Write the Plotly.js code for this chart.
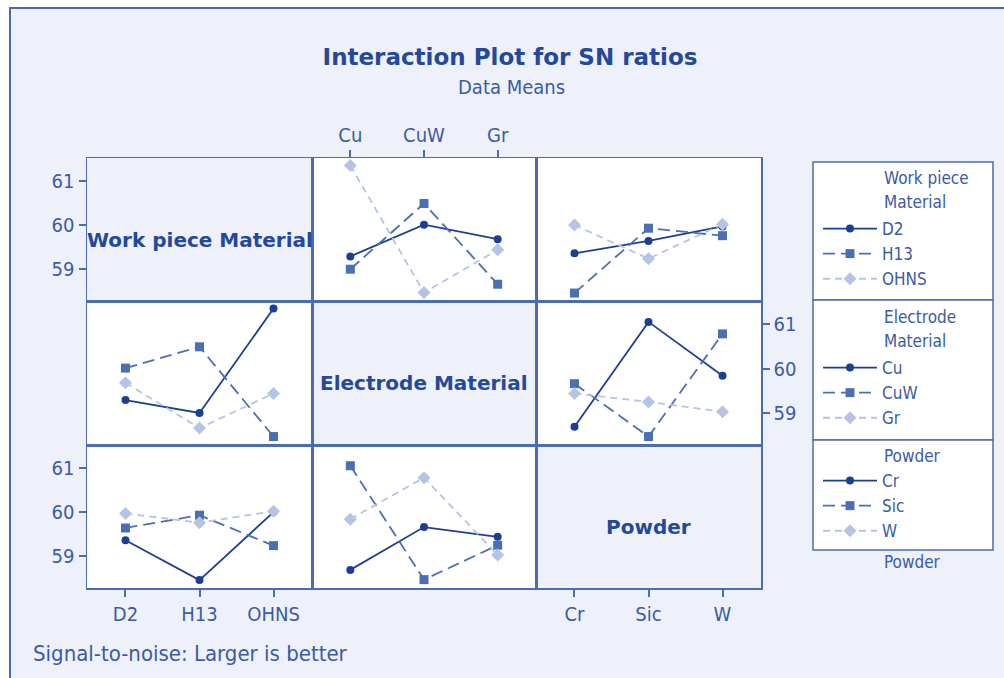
<!DOCTYPE html>
<html><head><meta charset="utf-8">
<script src="https://cdn.plot.ly/plotly-3.0.1.min.js"></script>
<style>html,body{margin:0;padding:0;background:#fff}#chart{width:1004px;height:678px}</style>
</head><body><div id="chart"></div>
<script>
// ---- data ----
const workpieceLevels = ['D2', 'H13', 'OHNS'];
const electrodeLevels = ['Cu', 'CuW', 'Gr'];
const powderLevels = ['Cr', 'Sic', 'W'];
const factorNames = ['Work piece Material', 'Electrode Material', 'Powder'];
// SN ratio cell means: rows = levels of first factor, columns = levels of second factor
const snWorkpieceByElectrode = [
  [59.29, 60.01, 59.68],   // D2   : Cu, CuW, Gr
  [59.00, 60.49, 58.66],   // H13
  [61.35, 58.47, 59.44]    // OHNS
];
const snWorkpieceByPowder = [
  [59.36, 59.64, 59.97],   // D2   : Cr, Sic, W
  [58.46, 59.93, 59.76],   // H13
  [60.00, 59.24, 60.02]    // OHNS
];
const snElectrodeByPowder = [
  [58.69, 61.05, 59.84],   // Cu   : Cr, Sic, W
  [59.66, 58.47, 60.78],   // CuW
  [59.44, 59.25, 59.03]    // Gr
];
const yTickVals = [59, 60, 61];
const yTickText = ['59', '60', '61'];

// ---- helpers ----
const W = 1004, H = 678;
const levels = [workpieceLevels, electrodeLevels, powderLevels];
function cell(fi, a, fj, b) {
  if (fi === 0 && fj === 1) return snWorkpieceByElectrode[a][b];
  if (fi === 1 && fj === 0) return snWorkpieceByElectrode[b][a];
  if (fi === 0 && fj === 2) return snWorkpieceByPowder[a][b];
  if (fi === 2 && fj === 0) return snWorkpieceByPowder[b][a];
  if (fi === 1 && fj === 2) return snElectrodeByPowder[a][b];
  return snElectrodeByPowder[b][a];
}
const colEdges = [87, 312, 536, 761];
const rowEdges = [158, 301, 445, 588];
const border = '#4a6cb3';
const bg = '#eef1f9';
const txt = '#3a5ba7';
const dark = '#23489c';
const seriesColor = ['#1d3f93', '#4b6fb4', '#b4c4e4'];
const seriesDash = ['solid', '12px,6px', '7px,5px'];
const seriesSymbol = ['circle', 'square', 'diamond'];
const seriesSize = [8, 9, 10];
const legendIds = ['legend', 'legend2', 'legend3'];
const condensed = 'DejaVu Sans Condensed, DejaVu Sans, sans-serif';
const sans = 'DejaVu Sans, sans-serif';

const traces = [];
const layout = {
  width: W, height: H,
  margin: {l: 0, r: 0, t: 0, b: 0},
  paper_bgcolor: '#ffffff',
  plot_bgcolor: 'rgba(0,0,0,0)',
  showlegend: true,
  hovermode: false,
  title: {
    text: '<b>Interaction Plot for SN ratios</b>',
    x: 510 / W, xanchor: 'center', xref: 'paper',
    y: 1 - 57 / H, yanchor: 'middle', yref: 'paper',
    font: {family: sans, size: 23, color: dark}
  },
  shapes: [], annotations: []
};

// background frame
layout.shapes.push({type: 'rect', xref: 'paper', yref: 'paper', layer: 'below',
  x0: 10 / W, x1: 1.05, y0: 1 - 8 / H, y1: -0.05,
  fillcolor: bg, line: {color: border, width: 2}});

for (let r = 0; r < 3; r++) {
  for (let c = 0; c < 3; c++) {
    const n = r * 3 + c + 1;
    const sfx = n === 1 ? '' : String(n);
    const xLab = (r === 0 && c === 1) || (r === 2 && c === 0) || (r === 2 && c === 2);
    const yLab = (c === 0 && (r === 0 || r === 2)) || (c === 2 && r === 1);
    layout['xaxis' + sfx] = {
      domain: [colEdges[c] / W, colEdges[c + 1] / W],
      anchor: 'y' + sfx,
      type: 'category', categoryorder: 'array', categoryarray: levels[c],
      range: [-0.52, 2.52],
      showline: true, mirror: true, linecolor: border, linewidth: 1.5,
      showgrid: false, zeroline: false, fixedrange: true,
      ticks: xLab ? 'outside' : '', ticklen: 7, tickwidth: 2, tickcolor: border,
      showticklabels: xLab, side: (r === 0 ? 'top' : 'bottom'),
      tickfont: {family: condensed, size: 20, color: txt}
    };
    layout['yaxis' + sfx] = {
      domain: [1 - rowEdges[r + 1] / H, 1 - rowEdges[r] / H],
      anchor: 'x' + sfx,
      range: [58.28, 61.52],
      tickmode: 'array', tickvals: yTickVals, ticktext: yTickText,
      showline: true, mirror: true, linecolor: border, linewidth: 1.5,
      showgrid: false, zeroline: false, fixedrange: true,
      ticks: yLab ? 'outside' : '', ticklen: 7, tickwidth: 2, tickcolor: border,
      showticklabels: yLab, side: (c === 2 ? 'right' : 'left'),
      tickfont: {family: condensed, size: 20, color: txt}
    };
    if (r === c) {
      // empty placeholder so the diagonal subplot (frame + ticks) is created
      traces.push({type: 'scatter', mode: 'lines', x: levels[c], y: levels[c].map(() => null),
        xaxis: 'x' + sfx, yaxis: 'y' + sfx, showlegend: false, hoverinfo: 'skip'});
      layout.annotations.push({
        xref: 'x' + sfx + ' domain', yref: 'y' + sfx + ' domain', x: 0.5, y: 0.5,
        yshift: -10, showarrow: false, text: '<b>' + factorNames[r] + '</b>',
        font: {family: sans, size: 20, color: dark}
      });
    } else {
      layout.shapes.push({type: 'rect', xref: 'x' + sfx + ' domain', yref: 'y' + sfx + ' domain',
        layer: 'below', x0: 0, x1: 1, y0: 0, y1: 1, fillcolor: '#ffffff', line: {width: 0}});
      const firstCol = (r === 0) ? 1 : 0;
      levels[r].forEach((lev, k) => {
        traces.push({
          type: 'scatter', mode: 'lines+markers',
          x: levels[c],
          y: levels[c].map((_, b) => cell(r, k, c, b)),
          xaxis: 'x' + sfx, yaxis: 'y' + sfx,
          name: lev, legend: legendIds[r], showlegend: c === firstCol,
          line: {color: seriesColor[k], width: 1.8, dash: seriesDash[k]},
          marker: {symbol: seriesSymbol[k], size: seriesSize[k], color: seriesColor[k], line: {width: 0}}
        });
      });
    }
  }
}

// legend boxes
[[162, 300], [300, 440], [440, 550]].forEach(([t, b]) => {
  layout.shapes.push({type: 'rect', xref: 'paper', yref: 'paper', layer: 'below',
    x0: 813 / W, x1: 993 / W, y0: 1 - t / H, y1: 1 - b / H,
    fillcolor: '#ffffff', line: {color: border, width: 1.5}});
});
const legendTops = [211, 350, 463];
legendIds.forEach((id, i) => {
  layout[id] = {
    x: 818 / W, y: 1 - legendTops[i] / H, xanchor: 'left', yanchor: 'top',
    bgcolor: 'rgba(0,0,0,0)', borderwidth: 0, itemwidth: 54,
    font: {family: condensed, size: 17, color: txt},
    itemclick: false, itemdoubleclick: false
  };
});
const legendTitles = [
  ['Work piece', 178], ['Material', 202],
  ['Electrode', 317], ['Material', 341],
  ['Powder', 456], ['Powder', 562]
];
legendTitles.forEach(([t, y]) => {
  layout.annotations.push({xref: 'paper', yref: 'paper', x: 882 / W, y: 1 - y / H,
    xanchor: 'left', yanchor: 'middle', showarrow: false, text: t,
    font: {family: condensed, size: 17, color: txt}});
});

layout.annotations.push({xref: 'paper', yref: 'paper', x: 511 / W, y: 1 - 87 / H,
  xanchor: 'center', yanchor: 'middle', showarrow: false, text: 'Data Means',
  font: {family: condensed, size: 20, color: txt}});
layout.annotations.push({xref: 'paper', yref: 'paper', x: 31 / W, y: 1 - 653 / H,
  xanchor: 'left', yanchor: 'middle', showarrow: false, text: 'Signal-to-noise: Larger is better',
  font: {family: condensed, size: 22, color: txt}});

Plotly.newPlot('chart', traces, layout, {displayModeBar: false, staticPlot: true});
</script></body></html>
